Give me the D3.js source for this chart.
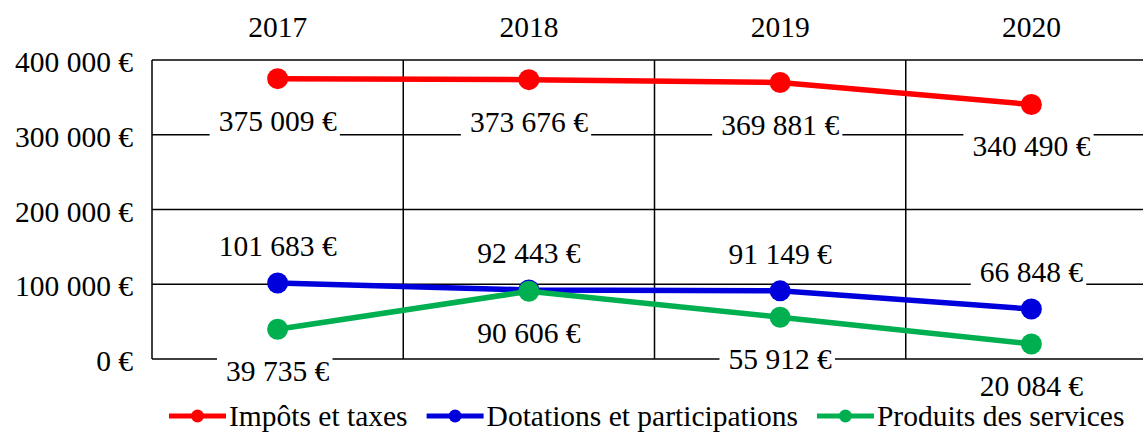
<!DOCTYPE html>
<html lang="fr">
  <head>
    <meta charset="utf-8" />
    <title>Recettes 2017-2020</title>
    <script src="https://cdnjs.cloudflare.com/ajax/libs/d3/7.8.5/d3.min.js"></script>
    <style>
      body { margin: 0; background: #fff; }
    </style>
  </head>
  <body>
    <script>
      const years = ["2017", "2018", "2019", "2020"];
      const impots = [375009, 373676, 369881, 340490];
      const dotations = [101683, 92443, 91149, 66848];
      const produits = [39735, 90606, 55912, 20084];
      const yTicks = [0, 100000, 200000, 300000, 400000];

      const series = [
        { name: "Impôts et taxes", values: impots, color: "#ff0000", labelPos: "below" },
        { name: "Dotations et participations", values: dotations, color: "#0000dd", labelPos: "above" },
        { name: "Produits des services", values: produits, color: "#00b050", labelPos: "below" }
      ];

      const width = 1143;
      const height = 432;
      const marginLeft = 152;
      const plotRight = 1157; // chart is cut at the window edge
      const marginTop = 60;
      const plotBottom = 359;
      const font = "Liberation Serif";
      const fontSize = "29.5px";

      const fmt = v => d3.format(",")(v).replace(/,/g, " ") + " €";

      const x = d3.scaleBand(years, [marginLeft, plotRight]);
      const y = d3.scaleLinear([0, 400000], [plotBottom, marginTop]);

      const svg = d3.select("body").append("svg")
        .attr("width", width)
        .attr("height", height)
        .attr("viewBox", [0, 0, width, height]);

      const addText = (sel) => sel
        .style("font-family", font)
        .style("font-size", fontSize)
        .attr("fill", "#000");

      // horizontal grid
      svg.append("g")
        .selectAll("line")
        .data(yTicks)
        .join("line")
        .attr("x1", marginLeft)
        .attr("x2", plotRight)
        .attr("y1", d => y(d))
        .attr("y2", d => y(d))
        .attr("stroke", "#000")
        .attr("stroke-width", 1.5);

      // vertical grid at category boundaries
      svg.append("g")
        .selectAll("line")
        .data(years)
        .join("line")
        .attr("x1", d => x(d))
        .attr("x2", d => x(d))
        .attr("y1", marginTop)
        .attr("y2", plotBottom)
        .attr("stroke", "#000")
        .attr("stroke-width", 1.5);

      // y tick labels
      svg.append("g")
        .selectAll("text")
        .data(yTicks)
        .join("text")
        .attr("x", 133)
        .attr("y", d => y(d) + 12)
        .attr("text-anchor", "end")
        .call(addText)
        .text(d => fmt(d));

      // year labels on top
      svg.append("g")
        .selectAll("text")
        .data(years)
        .join("text")
        .attr("x", d => x(d) + x.bandwidth() / 2)
        .attr("y", 37)
        .attr("text-anchor", "middle")
        .call(addText)
        .text(d => d);

      const cx = (d, i) => x(years[i]) + x.bandwidth() / 2;

      const line = d3.line()
        .x((d, i) => cx(d, i))
        .y(d => y(d));

      series.forEach(s => {
        svg.append("path")
          .attr("fill", "none")
          .attr("stroke", s.color)
          .attr("stroke-width", 5.5)
          .attr("d", line(s.values));
        svg.append("g")
          .selectAll("circle")
          .data(s.values)
          .join("circle")
          .attr("cx", cx)
          .attr("cy", d => y(d))
          .attr("r", 10.5)
          .attr("fill", s.color);
      });

      // data labels with white boxes
      series.forEach(s => {
        const g = svg.append("g");
        s.values.forEach((v, i) => {
          const lx = cx(v, i);
          const ly = y(v) + (s.labelPos === "below" ? 42 : -37);
          const lg = g.append("g");
          const rect = lg.append("rect").attr("fill", "#fff");
          const t = lg.append("text")
            .attr("x", lx)
            .attr("y", ly + 10)
            .attr("text-anchor", "middle")
            .call(addText)
            .text(fmt(v));
          const bb = t.node().getBBox();
          rect.attr("x", bb.x - 9)
            .attr("y", ly - 16)
            .attr("width", bb.width + 12)
            .attr("height", 32);
        });
      });

      // legend
      const legend = svg.append("g");
      let lx = 169;
      const ly = 416;
      series.forEach(s => {
        legend.append("line")
          .attr("x1", lx).attr("x2", lx + 57)
          .attr("y1", ly).attr("y2", ly)
          .attr("stroke", s.color)
          .attr("stroke-width", 5);
        legend.append("circle")
          .attr("cx", lx + 28.5).attr("cy", ly)
          .attr("r", 6.5)
          .attr("fill", s.color);
        const t = legend.append("text")
          .attr("x", lx + 60)
          .attr("y", 426)
          .call(addText)
          .text(s.name);
        lx += 60 + t.node().getComputedTextLength() + 19;
      });
    </script>
  </body>
</html>
